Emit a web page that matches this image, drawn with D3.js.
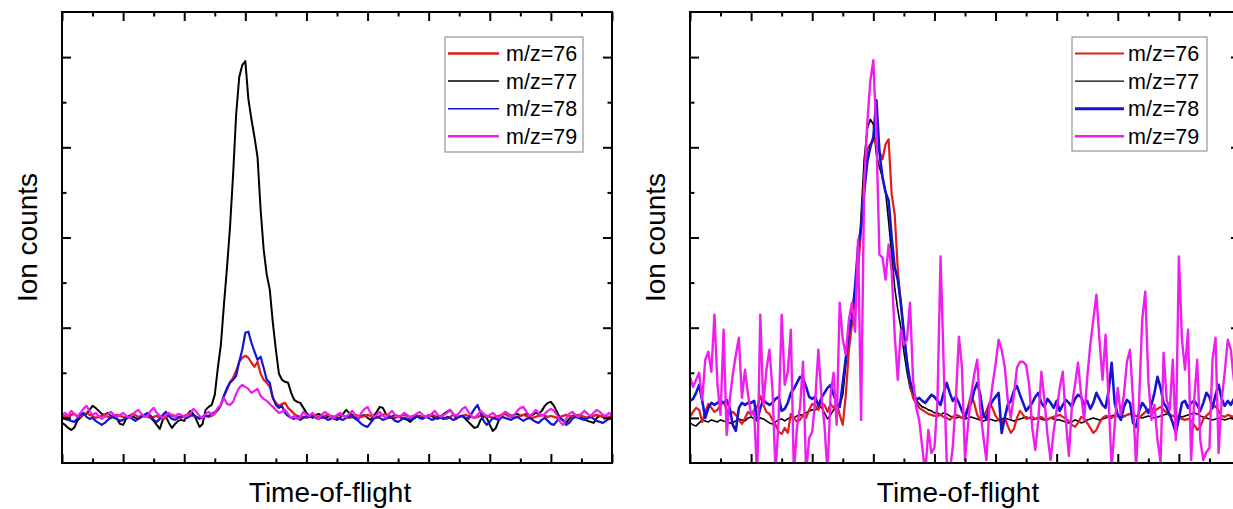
<!DOCTYPE html>
<html>
<head>
<meta charset="utf-8">
<script src="https://cdn.jsdelivr.net/npm/d3@7"></script>
<style>
  body { margin: 0; background: #fff; }
  svg { display: block; font-family: "Liberation Sans", Arial, sans-serif; }
</style>
</head>
<body>
<div id="chart"></div>
<script>
// time-of-flight bins (channel index along the x axis)
const bins = d3.range(0, 181);

const seriesNames = ['m/z=76', 'm/z=77', 'm/z=78', 'm/z=79'];
const seriesColors = ['#e01c1c', '#000000', '#1414d2', '#ee1eee'];

const xTicksMajor = [0, 20, 40, 60, 80, 100, 120, 140, 160, 180];
const xTicksMinor = [10, 30, 50, 70, 90, 110, 130, 150, 170];
const yTicksMajor = [45, 135, 225, 315, 405];
const yTicksMinor = [90, 180, 270, 360];

// ---- left panel ----
const leftM76 = [
  46,47,45,48,49,47,46,48,50,48,47,45,46,47,48,46,45,47,48,47,46,45,47,49,48,46,47,48,46,45,46,47,45,44,46,47,48,47,46,45,47,48,49,47,46,45,46,47,
  46,47,49,53,58,67,73,81,85,92,101,105,107,105,100,96,101,89,83,80,76,65,60,57,59,60,55,52,49,47,46,46,45,
  46,47,48,46,45,47,48,47,46,47,
  48,47,46,45,46,48,47,46,47,48,
  47,46,45,47,48,49,47,46,45,46,
  47,48,47,46,47,48,46,45,46,47,
  48,47,46,47,45,44,46,48,47,46,
  47,48,47,46,45,46,47,48,47,46,
  45,46,47,48,49,47,46,45,46,47,
  48,47,46,45,46,47,48,47,46,47,
  46,45,46,47,48,47,46,47,48,47,
  46,45,46,47,48,47,46,45,46,47
];

const leftM77 = [
  40,38,35,33,35,42,45,48,49,53,57,55,52,49,48,50,47,45,44,39,38,44,46,47,45,44,46,47,48,45,42,38,34,43,46,40,35,39,42,43,42,48,52,49,43,36,39,53,56,
  58,68,95,118,158,195,236,288,348,385,397,401,363,343,325,305,253,213,188,173,140,113,89,83,81,80,70,63,61,60,55,50,
  47,45,48,49,47,45,46,47,44,43,
  45,49,53,50,48,46,44,47,48,45,
  43,47,51,56,55,49,45,46,48,47,
  45,44,43,41,44,46,47,45,46,48,
  47,45,44,46,49,51,53,49,45,46,
  47,44,41,38,35,36,43,47,45,38,
  32,35,43,48,51,49,47,48,49,47,
  48,49,47,48,50,49,52,57,60,61,
  57,51,45,42,40,44,47,48,46,45,
  44,42,41,40,45,47,46,45,44,45
];

const leftM78 = [
  45,44,43,42,41,44,48,50,46,44,45,42,40,38,40,43,45,47,44,42,43,45,47,44,42,44,46,48,50,47,43,41,44,48,51,47,44,43,45,47,46,45,47,48,46,44,46,47,
  47,49,51,53,58,67,75,80,83,87,101,113,130,131,120,111,103,106,95,83,80,65,58,55,57,50,47,45,44,46,43,45,47,
  46,47,45,44,46,45,43,44,46,45,
  44,43,45,47,46,44,42,39,37,36,
  40,44,46,45,43,44,46,45,42,41,
  43,45,44,43,45,47,45,44,46,45,
  43,44,46,45,44,46,45,43,44,46,
  47,45,44,49,54,58,50,42,38,41,
  45,44,43,46,45,44,43,45,46,44,
  42,44,45,43,41,40,43,45,42,39,
  38,42,45,43,38,40,44,46,45,44,
  43,45,46,44,42,41,40,42,44,45
];

const leftM79 = [
  48,50,47,52,49,46,50,54,57,52,48,50,47,44,46,49,51,48,46,48,50,47,45,48,51,53,49,46,47,52,55,50,47,45,48,50,47,46,49,48,46,47,50,54,51,47,45,49,
  51,48,50,55,58,65,59,58,61,69,75,78,76,74,70,72,74,67,64,62,59,56,53,50,51,53,49,45,47,44,46,51,48,
  47,50,46,44,48,51,49,46,45,48,
  50,47,46,49,52,48,45,50,54,56,
  50,46,48,51,47,45,49,52,48,46,
  47,50,48,45,47,49,51,48,46,47,
  49,52,48,46,48,50,53,49,47,50,
  54,56,51,47,45,48,52,49,46,48,
  50,47,45,48,51,49,46,48,52,55,
  56,51,47,49,53,50,47,49,52,54,
  52,48,41,38,44,49,51,48,46,49,
  52,49,47,50,53,51,48,47,50,48
];

// ---- right panel ----
const rightM76 = [
  46,51,55,53,41,51,59,55,51,53,
  58,61,53,49,51,48,43,39,45,51,
  48,53,56,67,58,51,49,43,38,31,
  29,35,30,49,45,41,43,48,45,53,
  59,57,53,60,58,51,59,55,60,48,
  38,68,113,138,163,193,233,283,313,318,
  323,318,311,303,318,323,268,248,193,158,
  128,103,78,65,60,55,53,51,49,48,
  47,
  47,48,46,45,43,46,48,47,45,48,
  56,68,60,48,43,46,52,60,55,47,
  43,40,45,37,30,34,45,52,48,44,
  45,46,44,45,46,44,43,45,46,47,
  48,46,44,42,38,36,40,46,44,40,
  35,30,33,40,45,47,46,45,47,48,
  47,46,48,49,48,47,45,48,51,53,
  55,52,54,56,53,50,48,47,46,45,
  44,43,44,42,38,33,36,44,47,50,
  55,57,52,47,46,48,47,46,47,46
];

const rightM77 = [
  40,38,37,40,43,42,41,43,42,41,
  43,42,41,40,40,42,44,43,42,45,
  46,44,43,45,44,42,40,39,41,43,
  44,42,44,46,45,47,48,48,50,52,
  53,53,55,56,50,44,48,53,55,57,
  68,98,128,145,168,195,248,303,333,343,338,308,295,285,271,241,208,175,153,135,111,91,75,67,63,59,56,55,53,52,50,
  50,48,50,49,47,46,45,46,45,44,
  45,46,45,44,43,42,43,44,43,42,
  43,44,45,44,43,42,43,44,45,46,
  45,43,44,45,44,43,44,45,44,43,
  43,42,41,40,41,43,42,40,41,43,
  44,45,44,43,44,45,46,47,48,47,
  46,47,48,49,48,47,46,45,46,47,
  46,45,46,47,48,49,48,47,46,47,
  46,47,48,49,50,49,47,46,45,44,
  43,44,45,44,43,44,45,44,45,44
];

const rightM78 = [
  62,64,70,78,62,45,55,60,58,60,
  62,60,63,55,38,32,55,60,58,60,
  60,62,42,55,63,60,58,60,64,66,
  52,54,60,70,74,80,86,84,76,66,
  64,66,57,65,70,75,78,68,60,56,
  80,105,130,145,175,215,235,270,300,315,325,362,310,285,270,262,225,195,183,160,130,100,82,72,63,65,62,60,64,68,66,
  62,58,70,80,70,62,66,60,52,45,
  54,60,72,80,68,48,44,56,62,66,
  70,30,45,58,62,72,77,68,60,52,
  56,60,66,70,60,56,64,60,55,62,
  52,58,63,60,56,64,68,66,58,62,
  54,60,70,64,58,55,72,100,60,48,
  43,56,63,60,40,36,52,60,56,50,
  58,70,86,75,60,55,48,40,30,45,
  60,62,55,60,62,58,52,60,70,66,
  55,68,78,64,57,62,58,64,60,62
];

const rightM79 = [
  86,76,83,90,63,103,111,91,148,78,
  48,133,28,63,88,108,125,65,93,68,
  48,51,-15,148,58,93,113,73,-10,43,
  148,78,91,133,-10,35,55,101,-10,25,
  31,63,113,68,38,-10,68,90,38,160,
  123,108,143,160,131,223,43,278,338,381,
  402,328,208,205,183,218,191,128,83,133,
  118,123,160,83,56,43,16,-10,33,10,
  15,63,206,100,3,-10,16,63,126,96,
  3,38,68,88,103,53,26,3,55,78,
  98,123,113,96,63,45,68,95,101,101,
  98,78,35,13,43,91,63,28,3,31,
  53,75,91,43,7,58,78,100,68,43,
  85,118,143,168,123,83,128,63,-5,38,
  75,48,68,101,113,63,-5,63,143,171,
  83,43,58,23,1,110,63,53,103,23,
  206,123,93,133,3,63,103,23,3,11,
  15,103,125,10,63,90,123,113,83,63,73
];

const W = 1233, H = 509;
const plotTop = 12, plotW = 550, plotH = 451;

const svg = d3.select('#chart').append('svg')
  .attr('width', W)
  .attr('height', H);

function drawPanel(p) {
  const g = svg.append('g')
    .attr('transform', 'translate(' + p.left + ',' + plotTop + ')');

  const x = d3.scaleLinear().domain([0, 180]).range([0, plotW]);
  const y = d3.scaleLinear().domain([0, 450]).range([plotH, 0]);

  g.append('clipPath').attr('id', p.id + '-clip')
    .append('rect').attr('width', plotW).attr('height', plotH);

  const line = d3.line()
    .x((d, i) => x(bins[i]))
    .y(d => y(d));

  const lines = g.append('g').attr('clip-path', 'url(#' + p.id + '-clip)');
  p.order.forEach(k => {
    lines.append('path')
      .datum(p.series[k])
      .attr('fill', 'none')
      .attr('stroke', seriesColors[k])
      .attr('stroke-width', p.widths[k])
      .attr('stroke-linejoin', 'round')
      .attr('d', line);
  });

  // ticks on all four sides, pointing inward
  const sides = [
    [d3.axisBottom(x), 'translate(0,' + plotH + ')', xTicksMajor, xTicksMinor],
    [d3.axisTop(x), 'translate(0,0)', xTicksMajor, xTicksMinor],
    [d3.axisLeft(y), 'translate(0,0)', yTicksMajor, yTicksMinor],
    [d3.axisRight(y), 'translate(' + plotW + ',0)', yTicksMajor, yTicksMinor]
  ];
  sides.forEach(([axis, tr, major, minor]) => {
    [[major, 9], [minor, 4.5]].forEach(([vals, len]) => {
      g.append('g')
        .attr('transform', tr)
        .call(axis.tickValues(vals).tickSize(-len).tickFormat(''))
        .call(a => a.select('.domain').remove())
        .call(a => a.selectAll('line').attr('stroke', '#000').attr('stroke-width', 2));
    });
  });

  g.append('rect')
    .attr('width', plotW)
    .attr('height', plotH)
    .attr('fill', 'none')
    .attr('stroke', '#000')
    .attr('stroke-width', 2);

  // legend
  const lg = g.append('g').attr('transform', 'translate(' + p.legend.x + ',' + p.legend.y + ')');
  lg.append('rect')
    .attr('width', p.legend.w)
    .attr('height', p.legend.h)
    .attr('fill', '#fff')
    .attr('stroke', '#808080')
    .attr('stroke-width', 1);
  seriesNames.forEach((name, i) => {
    const ly = 16.5 + i * 27.6;
    lg.append('line')
      .attr('x1', 3).attr('x2', 3 + p.legend.lineLen)
      .attr('y1', ly).attr('y2', ly)
      .attr('stroke', seriesColors[i])
      .attr('stroke-width', p.legendWidths[i]);
    lg.append('text')
      .attr('x', p.legend.textX)
      .attr('y', ly + 7.5)
      .attr('font-size', 21.5)
      .attr('fill', '#000')
      .text(name);
  });

  // axis titles
  svg.append('text')
    .attr('transform', 'translate(' + (p.left - 25) + ',' + (plotTop + plotH / 2) + ') rotate(-90)')
    .attr('text-anchor', 'middle')
    .attr('font-size', 28)
    .text('Ion counts');

  svg.append('text')
    .attr('x', p.left + plotW / 2 - 7)
    .attr('y', 502)
    .attr('text-anchor', 'middle')
    .attr('font-size', 28)
    .text('Time-of-flight');
}

drawPanel({
  id: 'left',
  left: 62,
  series: [leftM76, leftM77, leftM78, leftM79],
  order: [1, 0, 2, 3],
  widths: [2.2, 2, 2.2, 2.2],
  legendWidths: [2.5, 1.5, 1.5, 2.5],
  legend: { x: 383, y: 25, w: 138, h: 115, lineLen: 51, textX: 61 }
});

drawPanel({
  id: 'right',
  left: 690,
  series: [rightM76, rightM77, rightM78, rightM79],
  order: [1, 0, 2, 3],
  widths: [2.2, 1.6, 2.6, 2.4],
  legendWidths: [2, 1.2, 3, 2.5],
  legend: { x: 382, y: 25, w: 135, h: 114, lineLen: 49, textX: 56 }
});
</script>
</body>
</html>
